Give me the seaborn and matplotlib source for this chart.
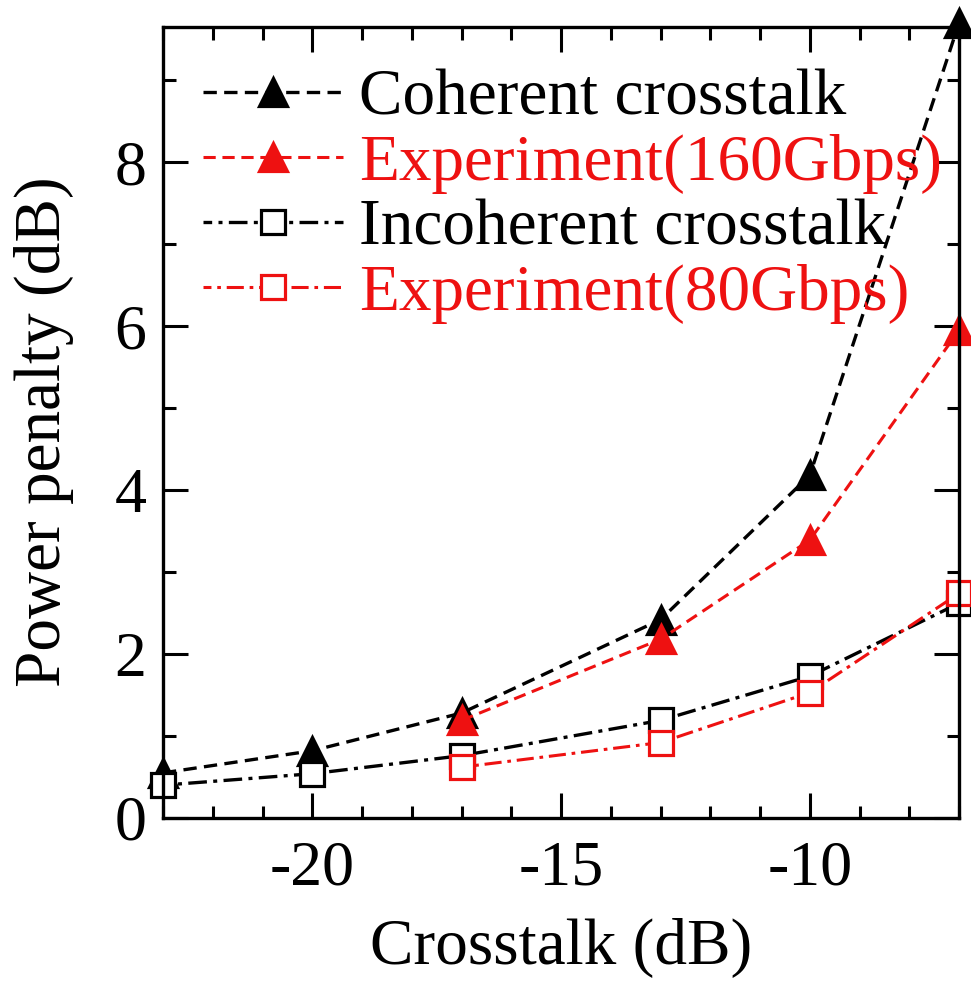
import matplotlib
matplotlib.use("Agg")
import matplotlib.pyplot as plt
from matplotlib.ticker import MultipleLocator
import pandas as pd
import seaborn as sns

# Crosstalk levels (dB) and power penalties (dB)
x_coherent = [-23, -20, -17, -13, -10, -7]
y_coherent = [0.55, 0.82, 1.28, 2.42, 4.18, 9.70]

x_exp160 = [-17, -13, -10, -7]
y_exp160 = [1.19, 2.18, 3.39, 5.95]

x_incoherent = [-23, -20, -17, -13, -10, -7]
y_incoherent = [0.40, 0.54, 0.76, 1.19, 1.73, 2.62]

x_exp80 = [-17, -13, -10, -7]
y_exp80 = [0.62, 0.92, 1.53, 2.74]

labels = ["Coherent crosstalk", "Experiment(160Gbps)",
          "Incoherent crosstalk", "Experiment(80Gbps)"]

sns.set_theme(style="ticks")
plt.rcParams["font.family"] = ["Liberation Serif", "DejaVu Serif"]
plt.rcParams["text.color"] = "black"
plt.rcParams["axes.labelcolor"] = "black"
plt.rcParams["xtick.color"] = "black"
plt.rcParams["ytick.color"] = "black"

RED = "#ee1111"
dashed = (0, (4.0, 2.2))
dashdot = (3.0, (5.6, 1.9, 1.2, 1.9))

fig = plt.figure(figsize=(9.71, 9.81), dpi=100)
ax = fig.add_axes([0.1679, 0.1662, 0.8198, 0.8063])

series = [
    (x_coherent, y_coherent, labels[0], "black", "^", dashed, "black", 2.4),
    (x_exp160, y_exp160, labels[1], RED, "^", dashed, RED, 2.2),
    (x_incoherent, y_incoherent, labels[2], "black", "s", dashdot, "white", 2.4),
    (x_exp80, y_exp80, labels[3], RED, "s", dashdot, "white", 2.2),
]

for xs, ys, lab, col, mk, ls, fc, lw in series:
    df = pd.DataFrame({"x": xs, "y": ys})
    ms = 20 if mk == "^" else 17
    sns.lineplot(data=df, x="x", y="y", ax=ax, color=col, linestyle=ls,
                 linewidth=lw, marker=mk, markersize=ms,
                 markerfacecolor=fc, markeredgecolor=col,
                 markeredgewidth=2.3, label=lab, clip_on=False,
                 errorbar=None, sort=False)

ax.set_xlim(-23, -7)
ax.set_ylim(0, 9.65)
ax.xaxis.set_major_locator(MultipleLocator(5))
ax.xaxis.set_minor_locator(MultipleLocator(1))
ax.yaxis.set_major_locator(MultipleLocator(2))
ax.yaxis.set_minor_locator(MultipleLocator(1))

ax.tick_params(which="both", direction="in", top=True, right=True,
               width=2.2, colors="black")
ax.tick_params(which="major", length=18, labelsize=46, pad=12)
ax.tick_params(which="minor", length=9)
ax.tick_params(axis="x", which="major", pad=16)
for sp in ax.spines.values():
    sp.set_linewidth(2.4)
    sp.set_color("black")

ax.set_xticks([-20, -15, -10])
ax.set_xticklabels(["-20", "-15", "-10"])
ax.set_yticks([0, 2, 4, 6, 8])
ax.set_yticklabels(["0", "2", "4", "6", "8"])

ax.set_xlabel("Crosstalk (dB)", fontsize=47, labelpad=14, color="black")
ax.set_ylabel("Power penalty (dB)", fontsize=47, color="black")
ax.yaxis.set_label_coords(-0.112, 0.488)

leg = ax.legend(loc="upper left", bbox_to_anchor=(0.05, 0.947),
                frameon=False, fontsize=47, handlelength=2.15,
                handletextpad=0.25, labelspacing=0.08, borderpad=0,
                borderaxespad=0, numpoints=1)
for txt, (_, _, _, col, *_rest) in zip(leg.get_texts(), series):
    txt.set_color(col)

fig.savefig("out.png", dpi=100, facecolor="white")
